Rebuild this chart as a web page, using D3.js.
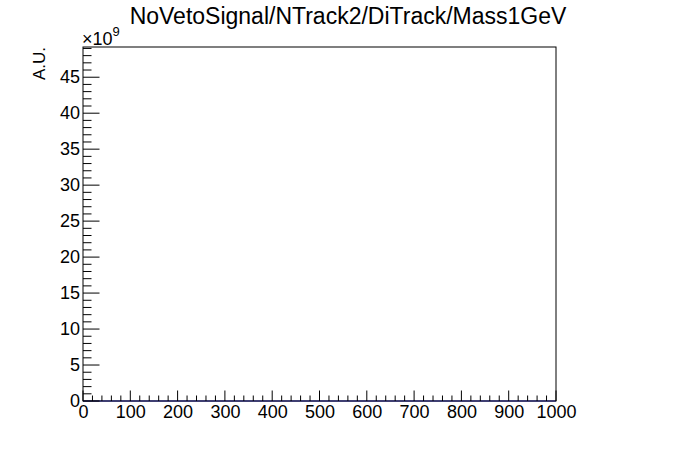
<!DOCTYPE html>
<html><head><meta charset="utf-8">
<script src="https://cdn.jsdelivr.net/npm/d3@7"></script>
<style>body{margin:0;background:#fff;} svg{display:block;} text{font-family:"Liberation Sans",Arial,sans-serif;}</style>
</head><body>
<svg id="c" width="696" height="472"></svg>
<script>
const title = "NoVetoSignal/NTrack2/DiTrack/Mass1GeV";
const yTitle = "A.U.";
const xDomain = [0, 1000];
const yDomain = [0, 49.2];
const xTickValues = [0,100,200,300,400,500,600,700,800,900,1000];
const yTickValues = [0,5,10,15,20,25,30,35,40,45];
const binEdges = [0,100,200,300,400,500,600,700,800,900,1000];
const binValues = [0,0,0,0,0,0,0,0,0,0];

const svg = d3.select("#c");
const L = 83, R = 556, T = 47, B = 401;
const x = d3.scaleLinear().domain(xDomain).range([L, R]);
const y = d3.scaleLinear().domain(yDomain).range([B, T]);

svg.append("rect").attr("width",696).attr("height",472).attr("fill","#fff");

// histogram line
const pts = [];
binValues.forEach((v,i)=>{ pts.push([x(binEdges[i]), y(v)]); pts.push([x(binEdges[i+1]), y(v)]); });
svg.append("path").attr("d", d3.line()(pts)).attr("fill","none").attr("stroke","#0000cc").attr("stroke-width",1.2);

// frame
svg.append("rect").attr("x",L).attr("y",T).attr("width",R-L).attr("height",B-T)
  .attr("fill","none").attr("stroke","#000").attr("stroke-width",1);

// x ticks
const xMinor = d3.range(0, 1000.001, 20);
const xa = svg.append("g").attr("stroke","#000").attr("stroke-width",1);
xMinor.forEach(v=>{
  const major = Math.abs(v % 100) < 1e-6;
  xa.append("line").attr("x1",x(v)).attr("x2",x(v)).attr("y1",B).attr("y2",B-(major?10.5:5.5));
});
svg.append("g").attr("transform",`translate(0,${B})`)
  .call(d3.axisBottom(x).tickValues(xTickValues).tickSize(0).tickPadding(0).tickFormat(d3.format("d")))
  .call(g=>{g.select(".domain").remove(); g.selectAll("text").attr("font-size",18).attr("dy","0.95em").attr("fill","#000").attr("font-family","Liberation Sans, Arial, sans-serif");});

// y ticks
const yMinor = d3.range(0, 49.001, 1);
const ya = svg.append("g").attr("stroke","#000").attr("stroke-width",1);
yMinor.forEach(v=>{
  const major = v % 5 === 0;
  ya.append("line").attr("x1",L).attr("x2",L+(major?16.5:8.5)).attr("y1",y(v)).attr("y2",y(v));
});
svg.append("g").attr("transform",`translate(${L},0)`)
  .call(d3.axisLeft(y).tickValues(yTickValues).tickSize(0).tickPadding(3).tickFormat(d3.format("d")))
  .call(g=>{g.select(".domain").remove(); g.selectAll("text").attr("font-size",18).attr("fill","#000").attr("font-family","Liberation Sans, Arial, sans-serif");});

// exponent
const ex = svg.append("text").attr("x",82).attr("y",45).attr("font-size",18);
ex.append("tspan").text("×10");
ex.append("tspan").attr("font-size",13).attr("dy",-9).text("9");

// title
svg.append("text").attr("x",348).attr("y",24).attr("text-anchor","middle").attr("font-size",23).text(title);

// y title
svg.append("text").attr("transform",`translate(45,${T}) rotate(-90)`).attr("text-anchor","end")
  .attr("font-size",17).text(yTitle);
</script>
</body></html>
